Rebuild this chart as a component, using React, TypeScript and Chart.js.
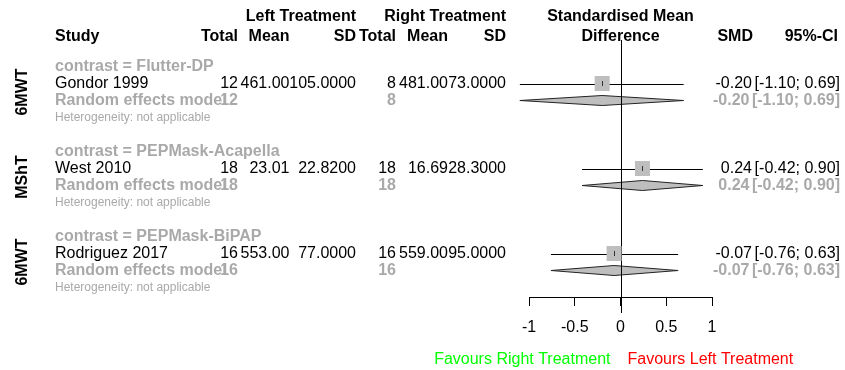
import React, { useEffect, useRef } from "react";
import { Chart, registerables } from "chart.js";

Chart.register(...registerables);

// ---------------- data ----------------
const outcomes = ["6MWT", "MShT", "6MWT"];
const contrasts = ["Flutter-DP", "PEPMask-Acapella", "PEPMask-BiPAP"];
const studies = ["Gondor 1999", "West 2010", "Rodriguez 2017"];
const leftTotal = [12, 18, 16];
const leftMean = [461.0, 23.01, 553.0];
const leftSD = [105.0, 22.82, 77.0];
const rightTotal = [8, 18, 16];
const rightMean = [481.0, 16.69, 559.0];
const rightSD = [73.0, 28.3, 95.0];
const smd = [-0.2, 0.24, -0.07];
const ciLower = [-1.1, -0.42, -0.76];
const ciUpper = [0.69, 0.9, 0.63];
const tickValues = [-1, -0.5, 0, 0.5, 1];
const tickLabels = ["-1", "-0.5", "0", "0.5", "1"];
const modelLabel = "Random effects model";
const hetLabel = "Heterogeneity: not applicable";
const favoursLeftSide = "Favours Right Treatment";
const favoursRightSide = "Favours Left Treatment";

// ---------------- style ----------------
const FONT = "'Liberation Sans', Arial, Helvetica, sans-serif";
const REG = `16px ${FONT}`;
const BOLD = `bold 16px ${FONT}`;
const SMALL = `12px ${FONT}`;
const DARKGRAY = "#A9A9A9";
const SQUARE = "#BEBEBE";
const DIAMOND = "#BEBEBE";

// column right edges (layout)
const COL = {
  study: 55,
  lTotal: 238,
  lMean: 289.5,
  lSD: 356,
  rTotal: 396,
  rMean: 448,
  rSD: 506,
  smd: 752,
  smdBold: 749.5,
  ci: 840,
};

const rowContrast = (g: number) => 5 * g;
const rowStudy = (g: number) => 5 * g + 1;
const rowModel = (g: number) => 5 * g + 2;
const rowHet = (g: number) => 5 * g + 3;

function txt(
  ctx: CanvasRenderingContext2D,
  s: string,
  x: number,
  y: number,
  align: CanvasTextAlign,
  font: string,
  color: string
) {
  ctx.font = font;
  ctx.fillStyle = color;
  ctx.textAlign = align;
  ctx.textBaseline = "middle";
  ctx.fillText(s, x, y);
}

const ciText = (i: number) =>
  `[${ciLower[i].toFixed(2)}; ${ciUpper[i].toFixed(2)}]`;

const forestPlugin = {
  id: "forestPlugin",
  beforeDatasetsDraw(chart: any) {
    const { ctx } = chart;
    const x = chart.scales.x;
    const y = chart.scales.y;
    ctx.save();
    ctx.strokeStyle = "#000";
    ctx.lineWidth = 1;
    // CI lines
    for (let i = 0; i < studies.length; i++) {
      const py = Math.round(y.getPixelForValue(rowStudy(i))) + 0.5;
      ctx.beginPath();
      ctx.moveTo(x.getPixelForValue(ciLower[i]), py);
      ctx.lineTo(x.getPixelForValue(ciUpper[i]), py);
      ctx.stroke();
    }
    // diamonds
    for (let i = 0; i < studies.length; i++) {
      const py = y.getPixelForValue(rowModel(i));
      const h = 5;
      ctx.beginPath();
      ctx.moveTo(x.getPixelForValue(ciLower[i]), py);
      ctx.lineTo(x.getPixelForValue(smd[i]), py - h);
      ctx.lineTo(x.getPixelForValue(ciUpper[i]), py);
      ctx.lineTo(x.getPixelForValue(smd[i]), py + h);
      ctx.closePath();
      ctx.fillStyle = DIAMOND;
      ctx.fill();
      ctx.strokeStyle = "#222";
      ctx.stroke();
    }
    // reference line at 0
    const zx = Math.round(x.getPixelForValue(0)) + 0.5;
    ctx.strokeStyle = "#000";
    ctx.beginPath();
    ctx.moveTo(zx, 40);
    ctx.lineTo(zx, x.top + 16);
    ctx.stroke();
    ctx.restore();
  },
  afterDatasetsDraw(chart: any) {
    const { ctx } = chart;
    const x = chart.scales.x;
    const y = chart.scales.y;
    ctx.save();
    ctx.strokeStyle = "#333";
    ctx.lineWidth = 1;
    for (let i = 0; i < studies.length; i++) {
      const px = Math.round(x.getPixelForValue(smd[i])) + 0.5;
      const py = y.getPixelForValue(rowStudy(i));
      ctx.beginPath();
      ctx.moveTo(px, py - 2.5);
      ctx.lineTo(px, py + 2.5);
      ctx.stroke();
    }
    ctx.restore();
  },
  afterDraw(chart: any) {
    const { ctx } = chart;
    const x = chart.scales.x;
    const y = chart.scales.y;
    const zx = x.getPixelForValue(0);
    ctx.save();
    // headers
    const h1 = 16.5;
    const h2 = 37;
    txt(ctx, "Left Treatment", COL.lSD, h1, "right", BOLD, "#000");
    txt(ctx, "Right Treatment", COL.rSD, h1, "right", BOLD, "#000");
    txt(ctx, "Standardised Mean", zx, h1, "center", BOLD, "#000");
    txt(ctx, "Study", COL.study, h2, "left", BOLD, "#000");
    txt(ctx, "Total", COL.lTotal, h2, "right", BOLD, "#000");
    txt(ctx, "Mean", COL.lMean, h2, "right", BOLD, "#000");
    txt(ctx, "SD", COL.lSD, h2, "right", BOLD, "#000");
    txt(ctx, "Total", COL.rTotal, h2, "right", BOLD, "#000");
    txt(ctx, "Mean", COL.rMean, h2, "right", BOLD, "#000");
    txt(ctx, "SD", COL.rSD, h2, "right", BOLD, "#000");
    txt(ctx, "Difference", zx, h2, "center", BOLD, "#000");
    txt(ctx, "SMD", 753, h2, "right", BOLD, "#000");
    txt(ctx, "95%-CI", 838, h2, "right", BOLD, "#000");

    for (let g = 0; g < studies.length; g++) {
      const yc = y.getPixelForValue(rowContrast(g));
      const ys = y.getPixelForValue(rowStudy(g));
      const ym = y.getPixelForValue(rowModel(g));
      const yh = y.getPixelForValue(rowHet(g));
      txt(ctx, `contrast = ${contrasts[g]}`, COL.study, yc, "left", BOLD, DARKGRAY);
      // study row
      txt(ctx, studies[g], COL.study, ys, "left", REG, "#000");
      txt(ctx, String(leftTotal[g]), COL.lTotal, ys, "right", REG, "#000");
      txt(ctx, leftMean[g].toFixed(2), COL.lMean, ys, "right", REG, "#000");
      txt(ctx, leftSD[g].toFixed(4), COL.lSD, ys, "right", REG, "#000");
      txt(ctx, String(rightTotal[g]), COL.rTotal, ys, "right", REG, "#000");
      txt(ctx, rightMean[g].toFixed(2), COL.rMean, ys, "right", REG, "#000");
      txt(ctx, rightSD[g].toFixed(4), COL.rSD, ys, "right", REG, "#000");
      txt(ctx, smd[g].toFixed(2), COL.smd, ys, "right", REG, "#000");
      txt(ctx, ciText(g), COL.ci, ys, "right", REG, "#000");
      // model row
      txt(ctx, modelLabel, COL.study, ym, "left", BOLD, DARKGRAY);
      txt(ctx, String(leftTotal[g]), COL.lTotal, ym, "right", BOLD, DARKGRAY);
      txt(ctx, String(rightTotal[g]), COL.rTotal, ym, "right", BOLD, DARKGRAY);
      txt(ctx, smd[g].toFixed(2), COL.smdBold, ym, "right", BOLD, DARKGRAY);
      txt(ctx, ciText(g), COL.ci, ym, "right", BOLD, DARKGRAY);
      // heterogeneity
      txt(ctx, hetLabel, COL.study, yh, "left", SMALL, DARKGRAY);
      // rotated outcome label
      const yMid = (yc + yh) / 2;
      ctx.save();
      ctx.translate(23, yMid);
      ctx.rotate(-Math.PI / 2);
      txt(ctx, outcomes[g], 0, 0, "center", BOLD, "#000");
      ctx.restore();
    }
    // favours labels
    txt(ctx, favoursLeftSide, zx - 10, 360, "right", REG, "#00FF00");
    txt(ctx, favoursRightSide, zx + 7, 360, "left", REG, "#FF0000");
    ctx.restore();
  },
};

export default function App() {
  const ref = useRef<HTMLCanvasElement | null>(null);
  useEffect(() => {
    if (!ref.current) return;
    const chart = new Chart(ref.current, {
      type: "scatter",
      data: {
        datasets: [
          {
            data: smd.map((v, i) => ({ x: v, y: rowStudy(i) })),
            pointStyle: "rect",
            pointRadius: 15 / (2 * Math.SQRT1_2),
            pointHoverRadius: 15 / (2 * Math.SQRT1_2),
            backgroundColor: SQUARE,
            borderWidth: 0,
            clip: false as any,
          },
        ],
      },
      options: {
        animation: false,
        responsive: false,
        devicePixelRatio: 1,
        events: [],
        layout: { padding: { left: 529, right: 133, top: 15.5, bottom: 0 } },
        plugins: {
          legend: { display: false },
          tooltip: { enabled: false },
        },
        scales: {
          x: {
            type: "linear",
            position: "bottom",
            min: -1,
            max: 1,
            afterBuildTicks: (scale: any) => {
              scale.ticks = tickValues.map((v) => ({ value: v }));
            },
            afterFit: (scale: any) => {
              scale.height = 73;
            },
            border: { display: true, color: "#000", width: 1 },
            grid: {
              display: true,
              drawOnChartArea: false,
              drawTicks: true,
              tickLength: 9,
              color: "#000",
              lineWidth: 1,
            },
            ticks: {
              padding: 12,
              autoSkip: false,
              maxRotation: 0,
              color: "#000",
              font: { family: FONT, size: 16 },
              callback: (_v: any, i: number) => tickLabels[i],
            },
          },
          y: {
            type: "linear",
            display: false,
            reverse: true,
            min: -3,
            max: (297 - 15.5) / 17 - 3,
          },
        },
      },
      plugins: [forestPlugin as any],
    });
    return () => chart.destroy();
  }, []);
  return (
    <div style={{ position: "absolute", left: 0, top: 0, width: 845, height: 370, background: "#fff" }}>
      <canvas ref={ref} width={845} height={370} style={{ width: 845, height: 370, display: "block" }} />
    </div>
  );
}
